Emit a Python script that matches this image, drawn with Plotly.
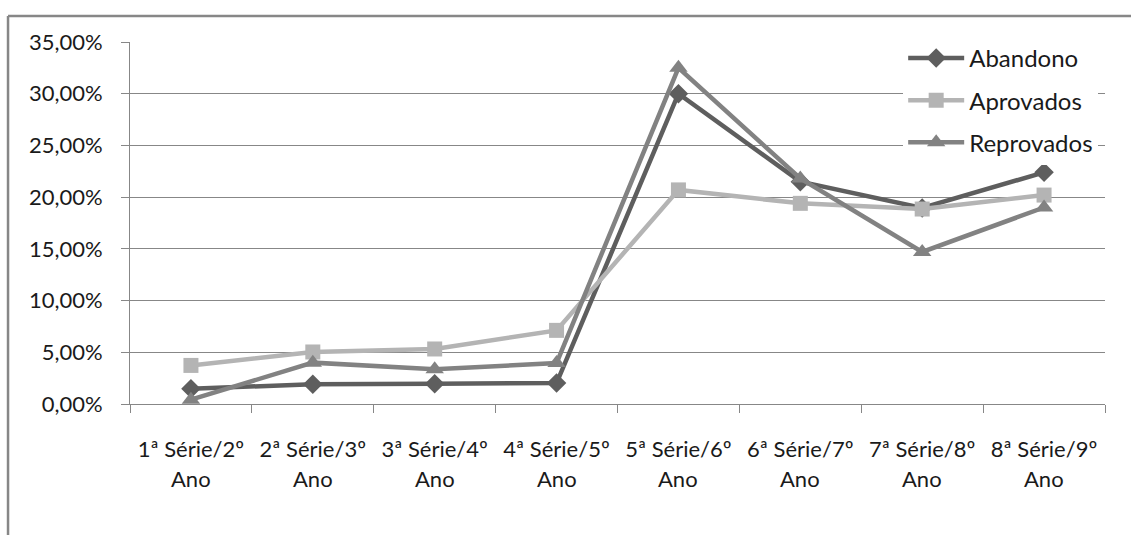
import plotly.graph_objects as go

categories = ["1ª Série/2º Ano", "2ª Série/3º Ano", "3ª Série/4º Ano", "4ª Série/5º Ano",
              "5ª Série/6º Ano", "6ª Série/7º Ano", "7ª Série/8º Ano", "8ª Série/9º Ano"]
abandono = [1.48, 1.90, 1.95, 2.03, 30.0, 21.5, 18.95, 22.4]
aprovados = [3.73, 5.03, 5.32, 7.12, 20.7, 19.4, 18.85, 20.2]
reprovados = [0.42, 4.0, 3.35, 3.96, 32.5, 21.8, 14.7, 19.0]
y_ticks = [0, 5, 10, 15, 20, 25, 30, 35]
y_ticklabels = ["0,00%", "5,00%", "10,00%", "15,00%", "20,00%", "25,00%", "30,00%", "35,00%"]

FONT = "Lato"
GRID = "#878787"
TXT = "#1a1a1a"

series = [
    ("Abandono", abandono, "#5e5e5e", "diamond", 15),
    ("Aprovados", aprovados, "#b4b4b4", "square", 15),
    ("Reprovados", reprovados, "#828282", "triangle-up", 16),
]

fig = go.Figure()
for name, vals, color, sym, size in series:
    fig.add_trace(go.Scatter(
        x=categories, y=vals, name=name, mode="lines+markers",
        legendgroup=name,
        line=dict(color=color, width=4.5),
        marker=dict(symbol=sym, size=size, color=color),
    ))

first_lines = [c.rsplit(" ", 1)[0] for c in categories]
second_lines = [c.rsplit(" ", 1)[1] for c in categories]

for c, s in zip(categories, second_lines):
    fig.add_annotation(x=c, y=-0.207, xref="x", yref="paper", text=s,
                       showarrow=False, yanchor="middle",
                       font=dict(family=FONT, size=22, color=TXT))

# outer chart border (cropped at right/bottom)
fig.add_shape(type="line", xref="paper", yref="paper",
              x0=-0.1251, x1=-0.1251, y0=-0.5, y1=1.0716,
              line=dict(color=GRID, width=2.5))
fig.add_shape(type="line", xref="paper", yref="paper",
              x0=-0.1251, x1=1.2, y0=1.0716, y1=1.0716,
              line=dict(color=GRID, width=2.5))

fig.update_layout(
    width=1131, height=535,
    margin=dict(l=130, r=26, t=42, b=131),
    paper_bgcolor="white", plot_bgcolor="white",
    font=dict(family=FONT, size=22, color=TXT),
    showlegend=True,
    legend=dict(x=0.793, xanchor="left", y=1.017, yanchor="top",
                bgcolor="white", borderwidth=0, itemwidth=56,
                tracegroupgap=8, font=dict(family=FONT, size=24, color=TXT)),
    xaxis=dict(
        categoryorder="array", categoryarray=categories,
        tickmode="array", tickvals=categories, ticktext=first_lines,
        tickson="boundaries", ticks="outside", ticklen=8, tickcolor=GRID, tickwidth=1,
        showline=True, linecolor=GRID, linewidth=1, showgrid=False,
        ticklabelstandoff=26,
        range=[-0.5, 7.5],
        tickfont=dict(family=FONT, size=22, color=TXT),
    ),
    yaxis=dict(
        range=[0, 35], tickmode="array", tickvals=y_ticks, ticktext=y_ticklabels,
        ticks="outside", ticklen=8, tickcolor=GRID,
        showline=True, linecolor=GRID, linewidth=1,
        showgrid=True, gridcolor=GRID, gridwidth=1, zeroline=False,
        ticklabelstandoff=14,
        tickfont=dict(family=FONT, size=22, color=TXT),
    ),
)

fig.write_html("out.html")
